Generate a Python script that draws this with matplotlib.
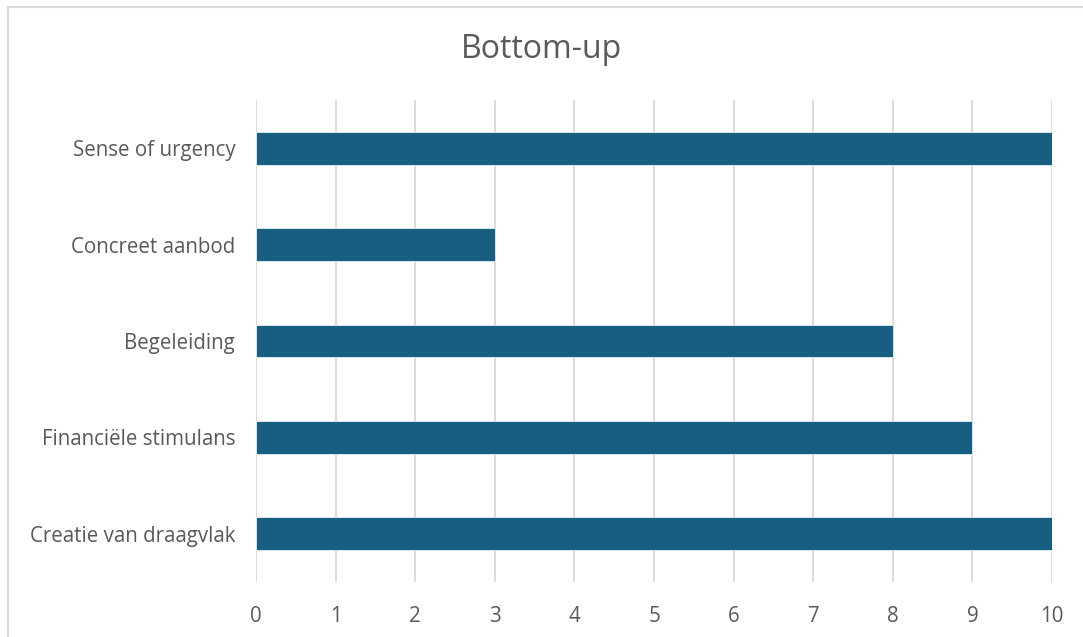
import matplotlib
matplotlib.use('Agg')
import matplotlib.pyplot as plt
from matplotlib.lines import Line2D

plt.rcParams['font.family'] = ['Open Sans', 'DejaVu Sans']

# data (top to bottom as shown)
categories = ['Sense of urgency', 'Concreet aanbod', 'Begeleiding',
              'Financiële stimulans', 'Creatie van draagvlak']
values = [10, 3, 8, 9, 10]
x_ticks = list(range(0, 11))

bar_color = '#175e80'
text_color = '#595959'
grid_color = '#d9d9d9'

W, H = 1083, 637
fig = plt.figure(figsize=(W / 100, H / 100), dpi=100)
ax = fig.add_axes([256 / W, 1 - 582 / H, (1052 - 256) / W, (582 - 100) / H])

pos = list(range(len(categories)))[::-1]
ax.barh(pos, values, height=0.34, color=bar_color, edgecolor='#e8f0f4',
        linewidth=0.6, zorder=3)

ax.set_xlim(0, 10)
ax.set_ylim(-0.5, len(categories) - 0.5)
ax.set_xticks(x_ticks)
ax.set_yticks(pos)
ax.set_yticklabels(categories)
ax.grid(axis='x', color=grid_color, linewidth=1.3, zorder=0)
ax.set_axisbelow(True)
for s in ax.spines.values():
    s.set_visible(False)
ax.tick_params(axis='both', length=0, colors=text_color, labelsize=14.8)
ax.tick_params(axis='x', pad=17)
ax.tick_params(axis='y', pad=15)

fig.text(0.5, 1 - 49 / H, 'Bottom-up', ha='center', va='center',
         fontsize=23, color=text_color)

# chart border (left and top edges)
fig.add_artist(Line2D([8 / W, 8 / W], [0, 1 - 7 / H], color='#d9d9d9',
                      linewidth=1.5, transform=fig.transFigure))
fig.add_artist(Line2D([8 / W, 1], [1 - 7 / H, 1 - 7 / H], color='#d9d9d9',
                      linewidth=1.5, transform=fig.transFigure))

fig.savefig('out.png', dpi=100)
